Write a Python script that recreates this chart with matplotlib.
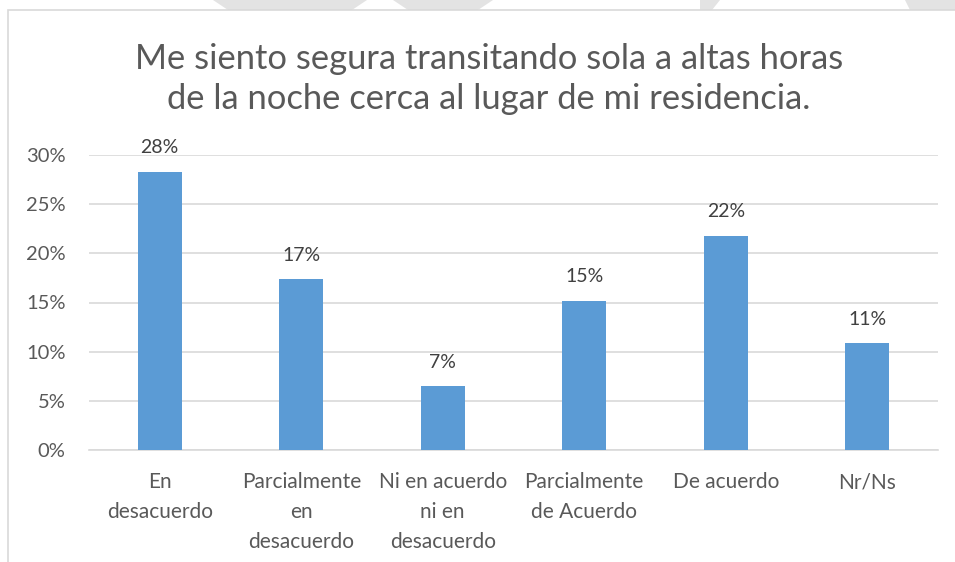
import numpy as np
import matplotlib
matplotlib.use('Agg')
import matplotlib.pyplot as plt
from matplotlib.patches import Rectangle, Polygon
from matplotlib.ticker import FuncFormatter

# datos
categorias = ['En\ndesacuerdo', 'Parcialmente\nen\ndesacuerdo', 'Ni en acuerdo\nni en\ndesacuerdo',
              'Parcialmente\nde Acuerdo', 'De acuerdo', 'Nr/Ns']
valores = [28.3, 17.4, 6.5, 15.2, 21.8, 10.9]
etiquetas = ['28%', '17%', '7%', '15%', '22%', '11%']
titulo = 'Me siento segura transitando sola a altas horas\nde la noche cerca al lugar de mi residencia.'

plt.rcParams['font.family'] = ['Lato', 'DejaVu Sans']
gris = '#595959'

fig = plt.figure(figsize=(9.55, 5.62), dpi=100)

# fondo gris de la pagina (arriba) y marco del grafico
for pts in [[(213, 0), (367, 0), (352, 10), (228, 10)],
            [(393, 0), (493, 0), (478, 10), (408, 10)],
            [(700, 0), (720, 0), (712, 10), (700, 10)],
            [(905, 0), (955, 0), (955, 10), (910, 10)]]:
    fig.patches.append(Polygon([(x / 955, 1 - y / 562) for x, y in pts], closed=True,
                               transform=fig.transFigure, facecolor='#e3e3e3', edgecolor='none'))
fig.patches.append(Rectangle((8 / 955, -0.1), 1.1, 1 - 10 / 562 + 0.1, transform=fig.transFigure,
                             facecolor='none', edgecolor='#d9d9d9', linewidth=1.2))

ax = fig.add_axes([89 / 955, 1 - 450 / 562, (938 - 89) / 955, (450 - 155) / 562])
x = np.arange(len(categorias))
barras = ax.bar(x, valores, width=0.31, color='#5b9bd5', zorder=3)
for b, t in zip(barras, etiquetas):
    ax.annotate(t, (b.get_x() + b.get_width() / 2, b.get_height()), xytext=(0, 11),
                textcoords='offset points', ha='center', va='bottom', fontsize=14, color='#404040')

ax.set_xlim(-0.5, len(categorias) - 0.5)
ax.set_ylim(0, 30)
ax.set_yticks(np.arange(0, 31, 5))
ax.yaxis.set_major_formatter(FuncFormatter(lambda v, p: f'{v:.0f}%'))
ax.set_xticks(x)
ax.set_xticklabels(categorias, fontsize=15, color=gris, linespacing=1.62)
ax.tick_params(axis='y', labelsize=14.5, labelcolor=gris, length=0, pad=17)
ax.tick_params(axis='x', length=0, pad=16)
ax.grid(axis='y', color='#d9d9d9', linewidth=1.2, zorder=0)
for s in ['top', 'right', 'left']:
    ax.spines[s].set_visible(False)
ax.spines['bottom'].set_color('#d9d9d9')
ax.spines['bottom'].set_linewidth(1.2)

fig.text(489 / 955, 1 - 79 / 562, titulo, ha='center', va='center', fontsize=24.8,
         color=gris, linespacing=1.33)

fig.savefig('out.png', dpi=100)
